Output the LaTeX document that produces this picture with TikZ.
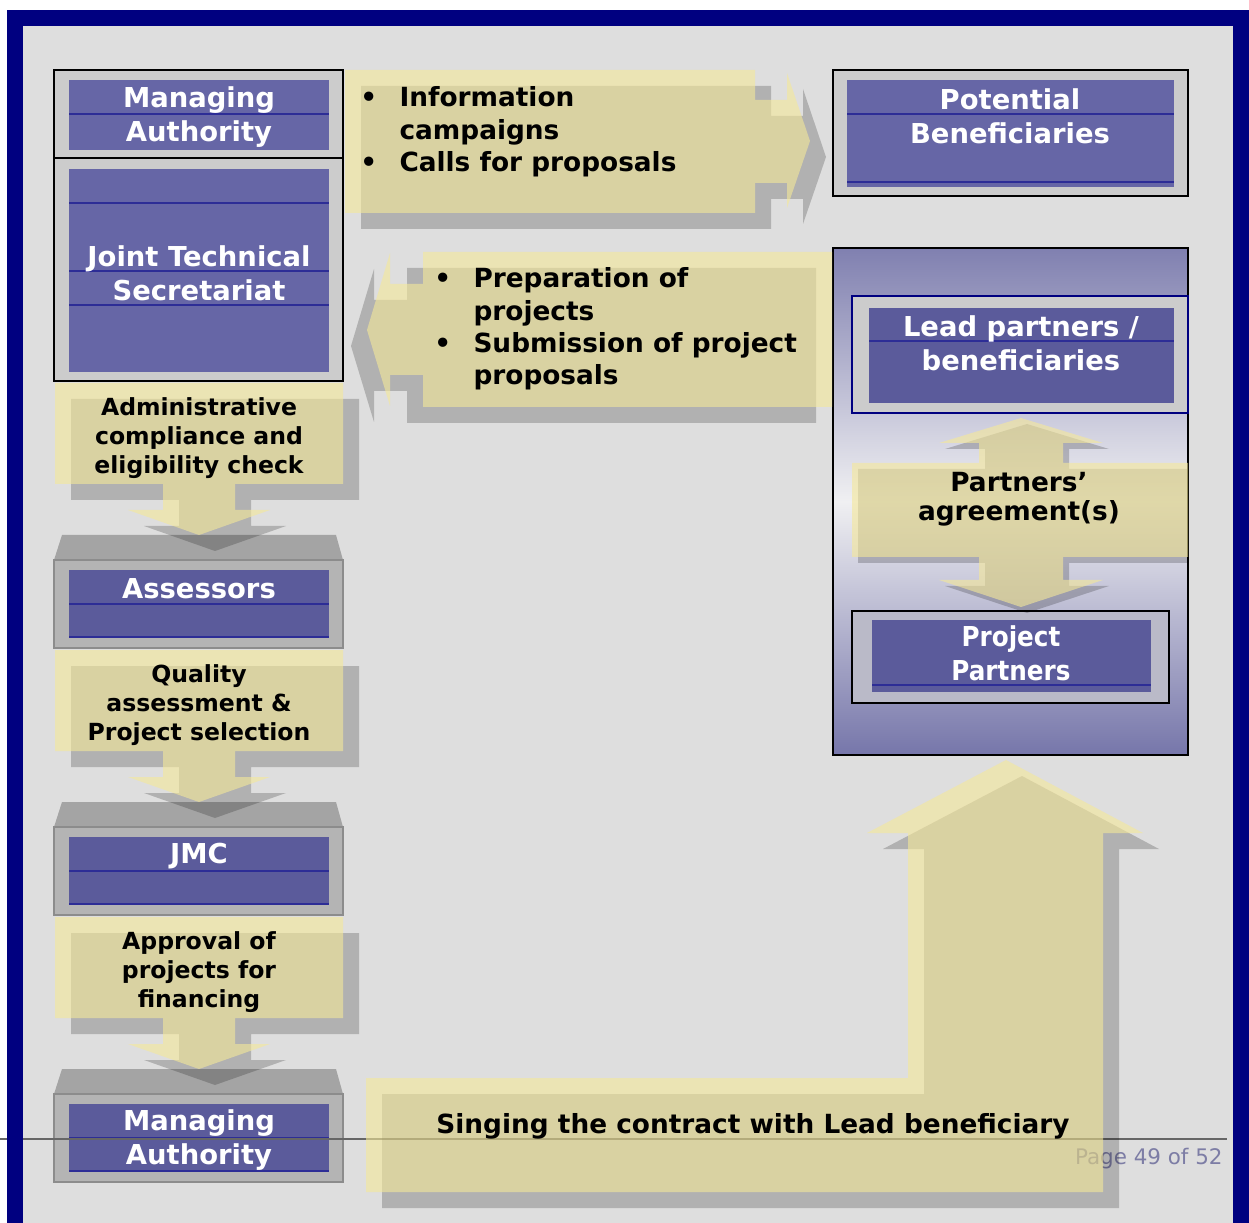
\documentclass[tikz,border=0pt]{standalone}
\usepackage{fontspec}
\setmainfont{DejaVu Sans}
\newfontfamily\condfont{DejaVu Sans Condensed}

\definecolor{navyframe}{RGB}{0,0,128}
\definecolor{pagegrey}{RGB}{222,222,222}
\definecolor{framegrey}{RGB}{204,204,204}
\definecolor{boxgrey}{RGB}{180,180,180}
\definecolor{bevelgrey}{RGB}{164,164,164}
\definecolor{ppgrey}{RGB}{186,186,200}
\definecolor{purplebox}{RGB}{102,102,166}
\definecolor{purpledark}{RGB}{91,91,155}
\definecolor{rulepurple}{RGB}{45,45,150}
\definecolor{callyellow}{RGB}{245,232,152}
\definecolor{footgrey}{RGB}{125,125,165}
\definecolor{gradtop}{RGB}{128,128,176}
\definecolor{gradmid}{RGB}{240,240,242}
\definecolor{gradbot}{RGB}{118,118,170}

\newcommand{\listbullet}{\makebox[22.3pt][l]{\textbullet}}
\newcommand{\listindent}{\hspace*{22.3pt}}

\tikzset{
  boxtext/.style={text=white, font=\fontsize{15.6}{19.3}\selectfont\bfseries, align=center, inner sep=0pt},
  calltext/.style={text=black, font=\fontsize{13.4}{16.4}\selectfont\bfseries, align=center, inner sep=0pt},
  listtext/.style={text=black, font=\fontsize{15}{18.4}\selectfont\bfseries, align=left, inner sep=0pt},
  callout/.style={fill=callyellow, fill opacity=0.6},
  calloutshadow/.style={fill=black, fill opacity=0.2},
  divider/.style={draw=rulepurple, line width=0.6pt},
}

\begin{document}
\begin{tikzpicture}[x=0.02cm, y=-0.02cm]
  % page
  \fill[white] (0,0) rectangle (1249,1223);
  \fill[pagegrey] (23,26) rectangle (1233,1223);
  \useasboundingbox (0,0) rectangle (1249,1223);

  % managing authority and secretariat
  \filldraw[fill=framegrey, draw=black, line width=1pt] (54,70) rectangle (343,158);
  \filldraw[fill=framegrey, draw=black, line width=1pt] (54,158) rectangle (343,381);
  \fill[purplebox] (69,80) rectangle (329,150);
  \draw[divider] (69,114) -- (329,114);
  \fill[purplebox] (69,169) rectangle (329,372);
  \foreach \y in {203,271,305} \draw[divider] (69,\y) -- (329,\y);

  % potential beneficiaries
  \filldraw[fill=framegrey, draw=black, line width=1pt] (833,70) rectangle (1188,196);
  \fill[purplebox] (847,80) rectangle (1174,187);
  \draw[divider] (847,114) -- (1174,114);
  \draw[divider] (847,182) -- (1174,182);

  % partnership group
  \shade[top color=gradtop, bottom color=gradbot, middle color=gradmid] (833,248) rectangle (1188,755);
  \draw[black, line width=1pt] (833,248) rectangle (1188,755);
  \filldraw[fill=framegrey, draw=navyframe, line width=0.8pt] (852,296) rectangle (1188,413);
  \fill[purpledark] (869,308) rectangle (1174,403);
  \draw[divider] (869,341) -- (1174,341);
  \filldraw[fill=ppgrey, draw=black, line width=1pt] (852,611) rectangle (1169,703);
  \fill[purpledark] (872,620) rectangle (1151,692);
  \draw[divider] (872,685) -- (1151,685);

  % bevelled boxes of the left column
  \foreach \t in {383,650,917} {
    \fill[bevelgrey] (62,{\t+152}) -- (336,{\t+152}) -- (343,{\t+177}) -- (54,{\t+177}) -- cycle;
    \filldraw[fill=boxgrey, draw=gray!90, line width=0.8pt] (54,{\t+177}) rectangle (343,{\t+265});
    \fill[purpledark] (69,{\t+187}) rectangle (329,{\t+255});
    \draw[divider] (69,{\t+221}) -- (329,{\t+221});
    \draw[divider] (69,{\t+254}) -- (329,{\t+254});
  }

  % footer
  \draw[black!60, line width=1pt] (0,1139) -- (1227,1139);
  \node[anchor=east, text=footgrey, inner sep=0pt, font=\fontsize{12.2}{14}\selectfont] (pagenum) at (1223,1159) {Page 49 of 52};

  % callouts
  \foreach \t in {383,650,917} {
    \fill[calloutshadow, shift={(16,16)}] (55,\t) -- (343,\t) -- (343,{\t+101}) -- (235,{\t+101}) -- (235,{\t+127}) -- (270,{\t+127}) -- (199,{\t+152}) -- (128,{\t+127}) -- (163,{\t+127}) -- (163,{\t+101}) -- (55,{\t+101}) -- cycle;
    \fill[callout] (55,\t) -- (343,\t) -- (343,{\t+101}) -- (235,{\t+101}) -- (235,{\t+127}) -- (270,{\t+127}) -- (199,{\t+152}) -- (128,{\t+127}) -- (163,{\t+127}) -- (163,{\t+101}) -- (55,{\t+101}) -- cycle;
  }
  \fill[calloutshadow, shift={(16,16)}] (345,70) -- (755,70) -- (755,100) -- (787,100) -- (787,73) -- (810,141) -- (787,208) -- (787,183) -- (755,183) -- (755,213) -- (345,213) -- cycle;
  \fill[callout] (345,70) -- (755,70) -- (755,100) -- (787,100) -- (787,73) -- (810,141) -- (787,208) -- (787,183) -- (755,183) -- (755,213) -- (345,213) -- cycle;
  \fill[calloutshadow, shift={(-16,16)}] (832,252) -- (423,252) -- (423,284) -- (390,284) -- (390,253) -- (367,330) -- (390,406) -- (390,375) -- (423,375) -- (423,407) -- (832,407) -- cycle;
  \fill[callout] (832,252) -- (423,252) -- (423,284) -- (390,284) -- (390,253) -- (367,330) -- (390,406) -- (390,375) -- (423,375) -- (423,407) -- (832,407) -- cycle;
  \begin{scope}
    \clip (833,248) rectangle (1188,755);
    \fill[calloutshadow, shift={(6,6)}] (1021,418) -- (1103,443) -- (1063,443) -- (1063,463) -- (1188,463) -- (1188,557) -- (1063,557) -- (1063,580) -- (1103,580) -- (1021,607) -- (939,580) -- (979,580) -- (979,557) -- (852,557) -- (852,463) -- (979,463) -- (979,443) -- (939,443) -- cycle;
    \fill[callout] (1021,418) -- (1103,443) -- (1063,443) -- (1063,463) -- (1188,463) -- (1188,557) -- (1063,557) -- (1063,580) -- (1103,580) -- (1021,607) -- (939,580) -- (979,580) -- (979,557) -- (852,557) -- (852,463) -- (979,463) -- (979,443) -- (939,443) -- cycle;
  \end{scope}
  \fill[calloutshadow, shift={(16,16)}] (366,1078) -- (908,1078) -- (908,833) -- (867,833) -- (1006,760) -- (1143,833) -- (1103,833) -- (1103,1192) -- (366,1192) -- cycle;
  \fill[callout] (366,1078) -- (908,1078) -- (908,833) -- (867,833) -- (1006,760) -- (1143,833) -- (1103,833) -- (1103,1192) -- (366,1192) -- cycle;

  % box labels
  \node[boxtext] (maTop) at (199,117) {Managing\\Authority};
  \node[boxtext] (jts) at (199,273) {Joint Technical\\Secretariat};
  \node[boxtext] (potben) at (1010,116) {Potential\\Beneficiaries};
  \node[boxtext] (lead) at (1021,343) {Lead partners /\\beneficiaries};
  \node[boxtext, font=\fontsize{15.6}{19.3}\selectfont\condfont\bfseries] (projp) at (1011,653) {Project\\Partners};
  \node[boxtext] (assess) at (199,589) {Assessors};
  \node[boxtext] (jmc) at (199,856) {JMC};
  \node[boxtext] (maBot) at (199,1140) {Managing\\Authority};

  % callout texts
  \node[calltext] (admin) at (199,438) {Administrative\\compliance and\\eligibility check};
  \node[calltext] (quality) at (199,705) {Quality\\assessment \&\\Project selection};
  \node[calltext] (approval) at (199,972) {Approval of\\projects for\\financing};
  \node[listtext, anchor=west] (infolist) at (360,132) {\listbullet Information\\\listindent campaigns\\\listbullet Calls for proposals};
  \node[listtext, anchor=west] (preplist) at (434,329) {\listbullet Preparation of\\\listindent projects\\\listbullet Submission of project\\\listindent proposals};
  \node[calltext, font=\fontsize{15}{16.4}\selectfont\bfseries] (agree) at (1019,499) {Partners’\\agreement(s)};
  \node[calltext, font=\fontsize{15}{18}\selectfont\bfseries] (signing) at (753,1126) {Singing the contract with Lead beneficiary};

  % frame
  \fill[navyframe] (7,10) rectangle (23,1223);
  \fill[navyframe] (7,10) rectangle (1249,26);
  \fill[navyframe] (1233,10) rectangle (1249,1223);
\end{tikzpicture}
\end{document}
